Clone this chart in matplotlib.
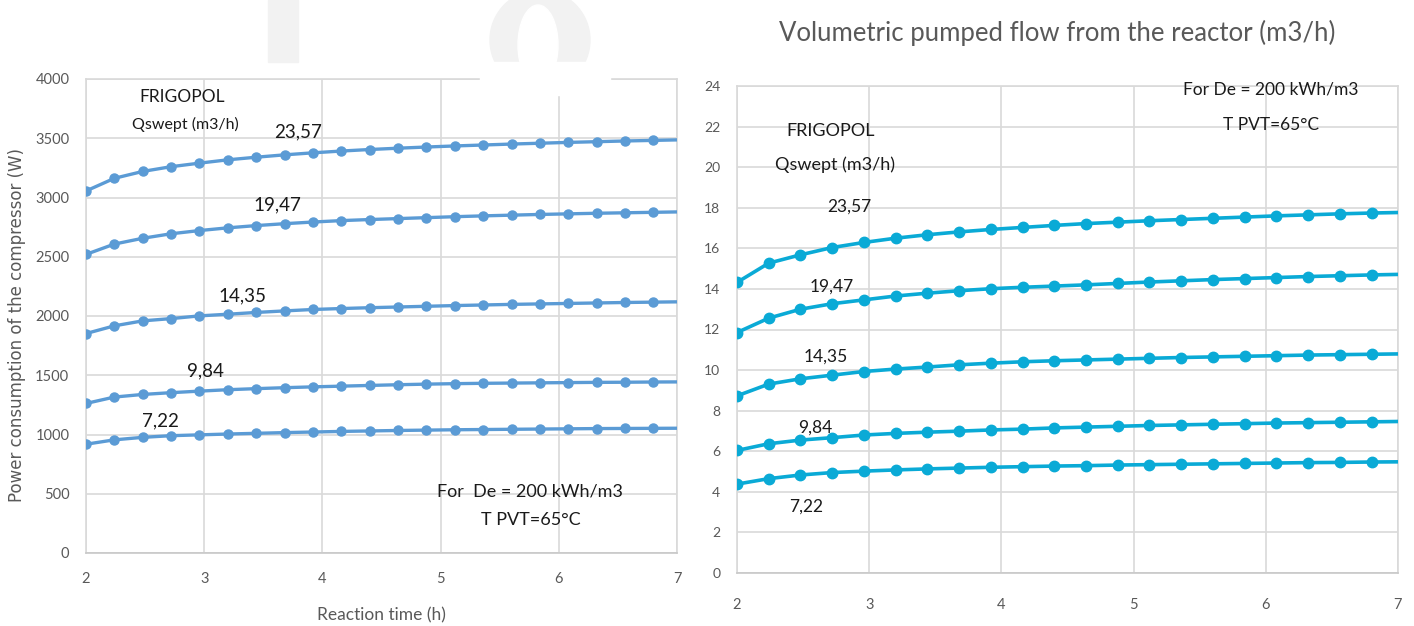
import numpy as np
import matplotlib
matplotlib.use("Agg")
import matplotlib.pyplot as plt
from matplotlib.patches import Rectangle, Ellipse

# ---------------- data ----------------
n_pts = 22
time_h = [2 + 0.24 * i for i in range(n_pts)]  # reaction time (h)

series_labels = ["23,57", "19,47", "14,35", "9,84", "7,22"]

power_2357 = [3055, 3162, 3220, 3260, 3290, 3318, 3340, 3360, 3377, 3392, 3405,
              3416, 3426, 3435, 3443, 3451, 3458, 3465, 3471, 3477, 3482, 3487]
power_1947 = [2520, 2607, 2656, 2694, 2721, 2744, 2763, 2779, 2793, 2805, 2814,
              2822, 2830, 2838, 2845, 2851, 2857, 2862, 2867, 2871, 2875, 2879]
power_1435 = [1852, 1917, 1959, 1978, 2001, 2015, 2030, 2043, 2055, 2063, 2070,
              2076, 2082, 2088, 2093, 2098, 2102, 2106, 2110, 2114, 2117, 2120]
power_984 = [1262, 1316, 1338, 1353, 1366, 1378, 1387, 1395, 1402, 1408, 1414,
             1420, 1425, 1429, 1432, 1434, 1436, 1438, 1440, 1441, 1443, 1444]
power_722 = [918, 955, 976, 990, 997, 1004, 1010, 1016, 1021, 1026, 1030,
             1034, 1037, 1040, 1042, 1044, 1046, 1048, 1050, 1051, 1052, 1053]

flow_2357 = [14.32, 15.27, 15.68, 16.04, 16.29, 16.50, 16.67, 16.81, 16.93, 17.03, 17.13,
             17.22, 17.29, 17.36, 17.42, 17.48, 17.54, 17.60, 17.65, 17.70, 17.74, 17.77]
flow_1947 = [11.85, 12.56, 13.00, 13.27, 13.46, 13.65, 13.79, 13.91, 14.01, 14.08, 14.14,
             14.20, 14.27, 14.34, 14.40, 14.46, 14.51, 14.56, 14.61, 14.65, 14.69, 14.72]
flow_1435 = [8.73, 9.31, 9.57, 9.75, 9.93, 10.05, 10.15, 10.26, 10.34, 10.41, 10.46,
             10.50, 10.54, 10.58, 10.62, 10.65, 10.68, 10.71, 10.74, 10.76, 10.78, 10.80]
flow_984 = [6.04, 6.37, 6.55, 6.67, 6.80, 6.88, 6.94, 6.99, 7.05, 7.09, 7.15,
            7.19, 7.23, 7.27, 7.30, 7.33, 7.36, 7.39, 7.41, 7.43, 7.45, 7.47]
flow_722 = [4.38, 4.65, 4.83, 4.95, 5.02, 5.08, 5.13, 5.17, 5.21, 5.24, 5.27,
            5.29, 5.32, 5.34, 5.36, 5.38, 5.40, 5.42, 5.44, 5.45, 5.47, 5.48]

power_series = [power_2357, power_1947, power_1435, power_984, power_722]
flow_series = [flow_2357, flow_1947, flow_1435, flow_984, flow_722]

left_yticks = list(range(0, 4001, 500))
right_yticks = list(range(0, 25, 2))
xticks = [2, 3, 4, 5, 6, 7]

# label anchor positions (data coords)
power_label_pos = [(3.79, 3558), (3.62, 2940), (3.32, 2167), (3.01, 1535), (2.63, 1113)]
flow_label_pos = [(2.85, 18.05), (2.72, 14.1), (2.67, 10.65), (2.59, 7.15), (2.52, 3.27)]

# ---------------- style ----------------
FONT = "Lato"
GRAY = "#595959"
GRID = "#d9d9d9"
BLUE = "#5b9bd5"
CYAN = "#0aaad6"
TXT = "#1a1a1a"

W, H = 1414, 626
fig = plt.figure(figsize=(W / 100, H / 100), dpi=100)
fig.patch.set_facecolor("white")

# faint background watermark shapes
WM = "#f2f2f2"
fig.patches.append(Rectangle((268 / W, 1 - 62 / H), 30 / W, 62 / H, transform=fig.transFigure,
                             color=WM, zorder=0))
fig.patches.append(Ellipse((540 / W, 1 - 40 / H), 100 / W, 100 / H, transform=fig.transFigure,
                           color=WM, zorder=0))
fig.patches.append(Ellipse((538 / W, 1 - 45 / H), 40 / W, 80 / H, transform=fig.transFigure,
                           color="white", zorder=0))
fig.patches.append(Rectangle((480 / W, 1 - 95 / H), 130 / W, 33 / H, transform=fig.transFigure,
                             color="white", zorder=0))


def style_axes(ax, yticks, ylim):
    ax.set_xlim(2, 7)
    ax.set_ylim(*ylim)
    ax.set_xticks(xticks)
    ax.set_yticks(yticks)
    ax.grid(True, color=GRID, linewidth=1.2)
    ax.set_axisbelow(True)
    for s in ax.spines.values():
        s.set_color(GRID)
        s.set_linewidth(1.2)
    ax.spines["bottom"].set_color("#c8c8c8")
    ax.tick_params(length=0, colors=GRAY, labelsize=10.5)
    for lab in ax.get_xticklabels() + ax.get_yticklabels():
        lab.set_family(FONT)


# ---------------- left chart ----------------
axL = fig.add_axes([86 / W, 1 - 553 / H, (677 - 86) / W, (553 - 79) / H])
style_axes(axL, left_yticks, (0, 4000))
axL.tick_params(axis="x", pad=14)
axL.tick_params(axis="y", pad=12)
for ys in power_series:
    axL.plot(time_h, ys, color=BLUE, lw=2.4, marker="o", ms=6.5,
             markevery=slice(0, n_pts - 1), clip_on=True, zorder=3)
for lab, (x, y) in zip(series_labels, power_label_pos):
    axL.text(x, y, lab, ha="center", va="center", fontsize=13.5, family=FONT, color=TXT)
axL.text(2.81, 3845, "FRIGOPOL", ha="center", va="center", fontsize=12.5, family=FONT, color=TXT)
axL.text(2.84, 3617, "Qswept (m3/h)", ha="center", va="center", fontsize=11.5, family=FONT, color=TXT)
axL.text(5.76, 523, "For  De = 200 kWh/m3", ha="center", va="center", fontsize=13, family=FONT, color=TXT)
axL.text(5.76, 278, "T PVT=65°C", ha="center", va="center", fontsize=13, family=FONT, color=TXT)
axL.set_xlabel("Reaction time (h)", fontsize=12.5, family=FONT, color=GRAY, labelpad=15)
fig.text(17 / W, 1 - 325 / H, "Power consumption of the compressor (W)", rotation=90,
         ha="center", va="center", fontsize=12, family="DejaVu Sans", color=GRAY)

# ---------------- right chart ----------------
axR = fig.add_axes([737 / W, 1 - 573 / H, (1398 - 737) / W, (573 - 86) / H])
style_axes(axR, right_yticks, (0, 24))
axR.tick_params(axis="x", pad=18)
axR.tick_params(axis="y", pad=12, labelsize=10)
for ys in flow_series:
    axR.plot(time_h, ys, color=CYAN, lw=2.6, marker="o", ms=7.5,
             markevery=slice(0, n_pts - 1), clip_on=True, zorder=3)
for lab, (x, y) in zip(series_labels, flow_label_pos):
    axR.text(x, y, lab, ha="center", va="center", fontsize=12.5, family=FONT, color=TXT)
axR.text(2.71, 21.8, "FRIGOPOL", ha="center", va="center", fontsize=13, family=FONT, color=TXT)
axR.text(2.74, 20.1, "Qswept (m3/h)", ha="center", va="center", fontsize=13, family=FONT, color=TXT)
axR.text(6.04, 23.85, "For De = 200 kWh/m3", ha="center", va="center", fontsize=12.5, family=FONT, color=TXT)
axR.text(6.04, 22.1, "T PVT=65°C", ha="center", va="center", fontsize=12.5, family=FONT, color=TXT)
fig.text(1057 / W, 1 - 33 / H, "Volumetric pumped flow from the reactor (m3/h)",
         ha="center", va="center", fontsize=18.5, family=FONT, color=GRAY)

fig.savefig("out.png", dpi=100, facecolor="white")
